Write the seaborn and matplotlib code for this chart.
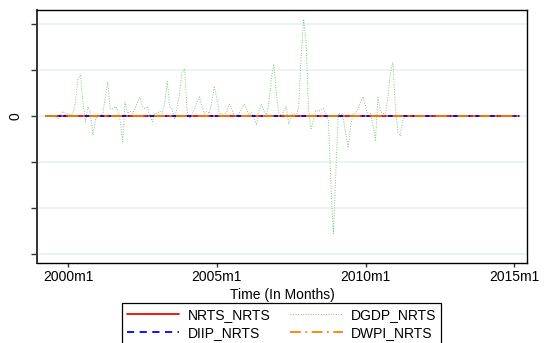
import numpy as np
import pandas as pd
import matplotlib
matplotlib.use("Agg")
import matplotlib.pyplot as plt
import seaborn as sns

# months counted from 2000m1 (0 = 2000m1), series runs 1999m4 .. 2015m3
months = list(range(-9, 183))

# DGDP_NRTS, 1999m4 .. 2011m5, flat afterwards
dgdp_active = [
    0.0, 0.0, 0.0, 0.0, -0.03, -0.06, 0.02, 0.1, 0.03,          # 1999m4-1999m12
    0.05, 0.02, 0.05, 0.3, 0.8, 0.9, 0.3, -0.13, 0.2, 0.05, -0.42, -0.1,   # 2000
    0.02, 0.0, 0.05, 0.4, 0.74, 0.15, 0.15, 0.2, 0.15, -0.1, -0.57, 0.3,   # 2001
    0.05, 0.1, 0.05, 0.15, 0.3, 0.4, 0.2, 0.15, 0.2, 0.0, -0.13, 0.05,     # 2002
    0.05, 0.1, 0.05, 0.3, 0.74, 0.2, 0.15, -0.08, 0.2, 0.5, 0.95, 1.01,    # 2003
    0.1, -0.06, 0.05, 0.15, 0.3, 0.41, 0.2, 0.05, 0.1, 0.05, 0.3, 0.62,    # 2004
    0.4, 0.05, 0.05, 0.0, 0.1, 0.25, 0.15, 0.0, -0.02, 0.05, 0.15, 0.25,   # 2005
    0.15, 0.02, 0.08, -0.05, -0.2, 0.1, 0.25, 0.1, 0.02, 0.3, 0.8, 1.12,   # 2006
    0.5, 0.05, 0.0, 0.1, 0.2, -0.18, 0.02, 0.05, 0.0, 0.2, 1.3, 2.1,       # 2007
    1.6, 0.1, -0.28, -0.1, 0.12, 0.1, 0.12, 0.16, 0.05, -0.1, -1.5, -2.56, # 2008
    -1.2, 0.05, 0.05, -0.05, -0.4, -0.67, -0.2, 0.05, 0.05, 0.15, 0.3, 0.41,  # 2009
    0.2, -0.02, 0.05, -0.2, -0.53, 0.4, 0.1, 0.05, 0.05, 0.4, 0.95, 1.16,  # 2010
    0.2, -0.35, -0.44, -0.1, 0.0,                                          # 2011m1-m5
]
dgdp = dgdp_active + [0.0] * (len(months) - len(dgdp_active))
nrts = [0.0] * len(months)
diip = [0.0] * len(months)
dwpi = [0.0] * len(months)

xtick_pos = [0, 60, 120, 180]
xtick_lab = ["2000m1", "2005m1", "2010m1", "2015m1"]
ytick_pos = [-3, -2, -1, 0, 1, 2]

df = pd.DataFrame({"m": months, "NRTS_NRTS": nrts, "DGDP_NRTS": dgdp,
                   "DIIP_NRTS": diip, "DWPI_NRTS": dwpi})

sns.set_theme(style="white")
plt.rcParams["font.family"] = ["Liberation Sans", "DejaVu Sans"]
plt.rcParams["font.size"] = 10
plt.rcParams["text.color"] = "black"
plt.rcParams["axes.labelcolor"] = "black"
plt.rcParams["xtick.color"] = "black"
plt.rcParams["ytick.color"] = "black"

fig = plt.figure(figsize=(5.45, 3.43), dpi=100)
ax = fig.add_axes([0.068, 0.234, 0.899, 0.736])

for y in ytick_pos:
    ax.axhline(y, color="#EAF2F3", lw=1.3, zorder=0)

sns.lineplot(data=df, x="m", y="NRTS_NRTS", ax=ax, color="#FF0000", lw=1.3)
sns.lineplot(data=df, x="m", y="DGDP_NRTS", ax=ax, color="#3FA33F", lw=0.7,
             linestyle=(0, (1, 1.6)), alpha=0.65)
sns.lineplot(data=df, x="m", y="DIIP_NRTS", ax=ax, color="#0000FF", lw=1.3,
             linestyle=(0, (4, 3)))
sns.lineplot(data=df, x="m", y="DWPI_NRTS", ax=ax, color="#FF7F00", lw=1.3,
             linestyle=(0, (6, 2.5, 1, 2.5)))
lines = ax.get_lines()[len(ytick_pos):]
names = ["NRTS_NRTS", "DGDP_NRTS", "DIIP_NRTS", "DWPI_NRTS"]

ax.set_xlim(-12.5, 185.1)
ax.set_ylim(-3.19, 2.29)
ax.set_xticks(xtick_pos)
ax.set_xticklabels(xtick_lab, fontsize=10)
ax.set_yticks(ytick_pos)
ax.set_yticklabels(["" if v != 0 else "0" for v in ytick_pos], rotation=90,
                   va="center", fontsize=10)
ax.tick_params(axis="y", left=True, length=4.5, width=1, color="#333333", pad=6)
ax.tick_params(axis="x", bottom=True, length=3, width=1, color="#333333", pad=2)
ax.set_xlabel("Time (In Months)", fontsize=10, labelpad=3)
ax.set_ylabel("")
for s in ax.spines.values():
    s.set_color("black")
    s.set_linewidth(1.0)
ax.spines["left"].set_color("#333333")
ax.spines["left"].set_linewidth(1.4)

order = [0, 2, 1, 3]
leg = fig.legend([lines[i] for i in order], [names[i] for i in order],
                 loc="upper center", bbox_to_anchor=(0.5165, 0.1175), ncol=2,
                 fontsize=10, frameon=True, fancybox=False, framealpha=1,
                 edgecolor="black", handlelength=3.8, handletextpad=0.6,
                 columnspacing=1.4, borderpad=0.35, labelspacing=0.3,
                 borderaxespad=0)
leg.get_frame().set_linewidth(0.9)

fig.savefig("out.png", dpi=100)
